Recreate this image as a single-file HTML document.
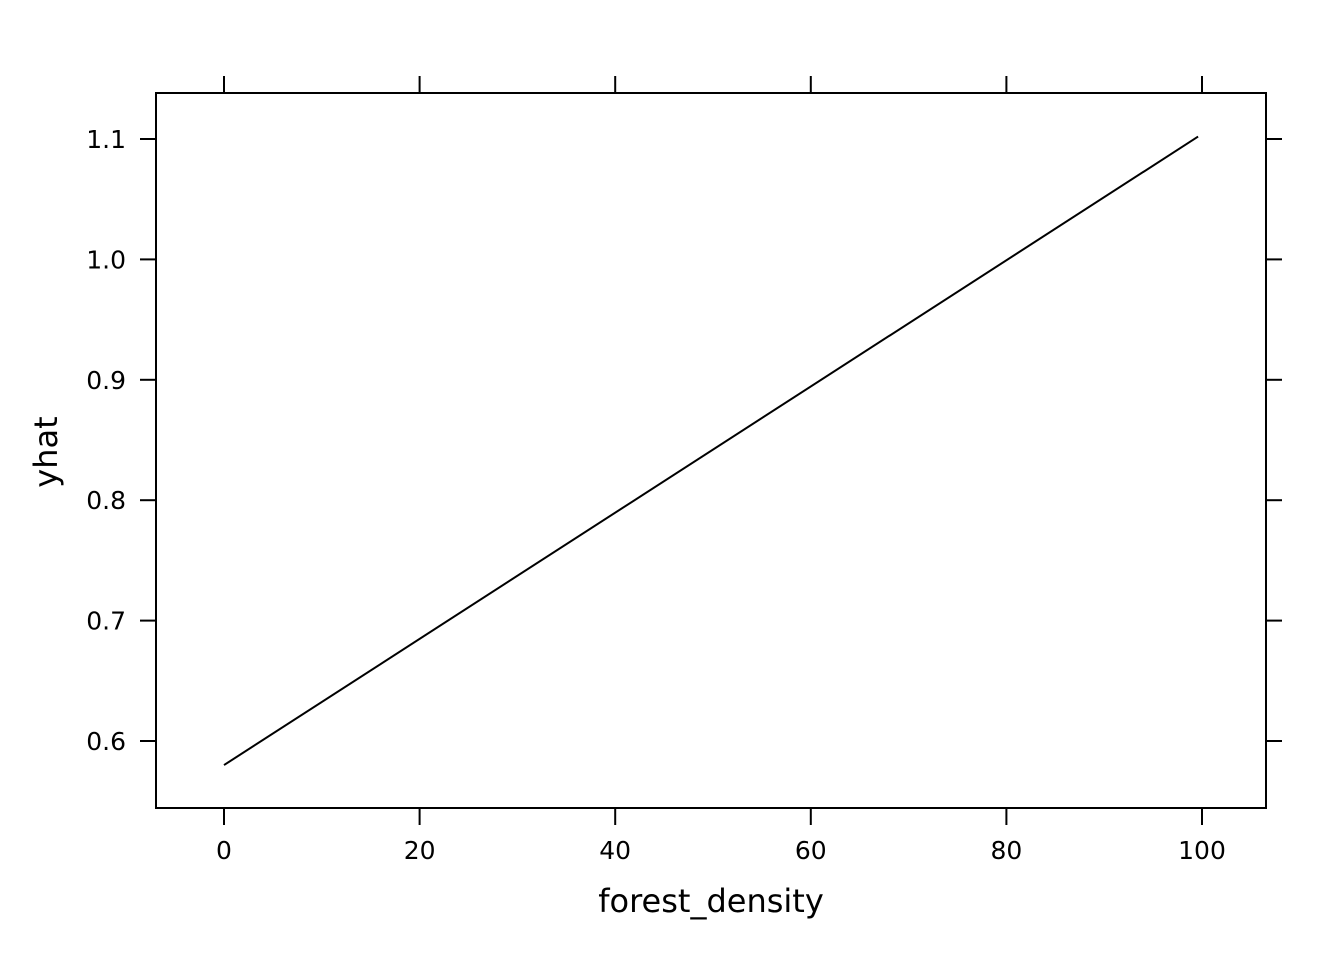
<!DOCTYPE html>
<html><head><meta charset="utf-8"><style>
html,body{margin:0;padding:0;background:#fff}
svg{display:block}
text{font-family:"DejaVu Sans","Liberation Sans",sans-serif;fill:#000}
</style></head><body>
<svg id="chart" width="1344" height="960" xmlns="http://www.w3.org/2000/svg">
<rect x="156" y="93" width="1110" height="715" fill="none" stroke="#000" stroke-width="2"/>
<g id="axes"></g>
<polyline id="series" fill="none" stroke="#000" stroke-width="2"/>
<text x="711" y="912" font-size="32" text-anchor="middle">forest_density</text>
<text x="0" y="0" font-size="32" text-anchor="middle" transform="translate(57,452) rotate(-90)">yhat</text>
</svg>
<script>
const xTicks = [0, 20, 40, 60, 80, 100];
const yTicks = [0.6, 0.7, 0.8, 0.9, 1.0, 1.1];
const yTickLabels = ["0.6", "0.7", "0.8", "0.9", "1.0", "1.1"];
const xValues = [0, 99.6];
const yValues = [0.58, 1.102];

function sx(v){ return 224 + (v - 0) * (1202 - 224) / 100; }
function sy(v){ return 741 - (v - 0.6) * (741 - 139) / 0.5; }

const ns = "http://www.w3.org/2000/svg";
const g = document.getElementById('axes');
function line(x1,y1,x2,y2,name){
  const l = document.createElementNS(ns,'line');
  l.setAttribute('x1',x1);l.setAttribute('y1',y1);l.setAttribute('x2',x2);l.setAttribute('y2',y2);
  l.setAttribute('stroke','#000');l.setAttribute('stroke-width','2');
  
  
  g.appendChild(l);
}
function text(x,y,s,anchor,name){
  const t = document.createElementNS(ns,'text');
  t.setAttribute('x',x);t.setAttribute('y',y);t.setAttribute('font-size','25');
  t.setAttribute('text-anchor',anchor);t.textContent = s;
  
  
  g.appendChild(t);
}
xTicks.forEach(v=>{
  const x = sx(v);
  line(x,808,x,825,'x-tick');
  line(x,93,x,76,'x-tick-top');
  text(x,859,String(v),'middle','x-tick-label');
});
yTicks.forEach((v,i)=>{
  const y = sy(v);
  line(140,y,156,y,'y-tick');
  line(1266,y,1282,y,'y-tick-right');
  text(126,y+9,yTickLabels[i],'end','y-tick-label');
});
document.getElementById('series').setAttribute('points',
  xValues.map((v,i)=>sx(v)+','+sy(yValues[i])).join(' '));
</script>
</body></html>
